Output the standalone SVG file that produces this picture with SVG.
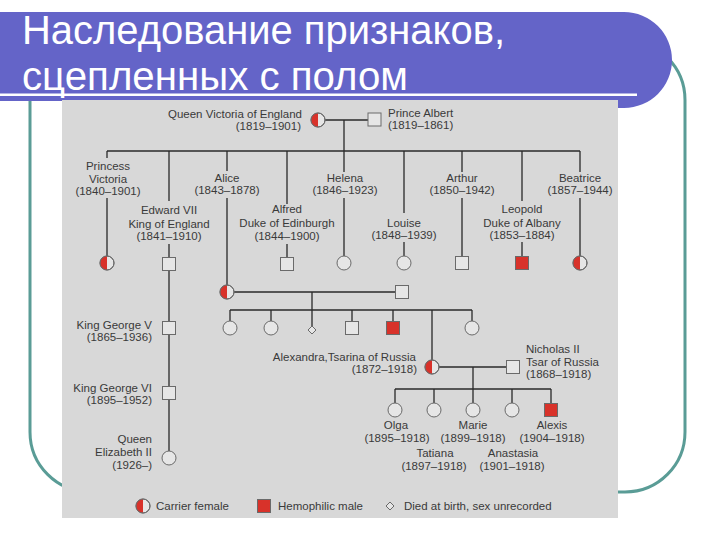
<svg xmlns="http://www.w3.org/2000/svg" xmlns:xlink="http://www.w3.org/1999/xlink" width="720" height="540" viewBox="0 0 720 540">
<style>
.t{font-family:"Liberation Sans",Arial,sans-serif;font-size:11.5px;fill:#3a3a3a}
.m{text-anchor:middle}.e{text-anchor:end}
.ttl{font-family:"Liberation Sans",Arial,sans-serif;font-size:40px;fill:#ffffff}
.ln{fill:none;stroke:#2a2a2a;stroke-width:1.3}
.sym{fill:#e6e6e6;stroke:#6a6a6a;stroke-width:1}
.red{fill:#d8322a}
.ol{fill:none;stroke:#6a6a6a;stroke-width:1}
</style>
<defs>
<g id="carrier"><circle r="7" class="sym"/><path d="M0,-7 A7,7 0 0 0 0,7 Z" class="red"/><circle r="7" class="ol"/></g>
<circle id="female" r="7" class="sym"/>
<rect id="male" x="-6.5" y="-6.5" width="13" height="13" class="sym"/>
<g id="hemo"><rect x="-6.5" y="-6.5" width="13" height="13" class="red"/><rect x="-6.5" y="-6.5" width="13" height="13" class="ol"/></g>
<path id="diamond" d="M0,-4 L4,0 L0,4 L-4,0 Z" class="sym"/>
</defs>
<rect width="720" height="540" fill="#ffffff"/>
<rect x="30" y="40" width="655" height="452" rx="60" ry="60" fill="none" stroke="#5a9c96" stroke-width="3"/>
<path d="M0,12 H624 A48,48 0 0 1 624,108 H62 V101 H0 Z" fill="#6464c8"/>
<rect x="0" y="93.5" width="637" height="2.5" fill="#ffffff"/>
<text class="ttl" x="22" y="44" textLength="483" lengthAdjust="spacingAndGlyphs">Наследование признаков,</text>
<text class="ttl" x="22" y="90" textLength="386" lengthAdjust="spacingAndGlyphs">сцепленных с полом</text>
<rect x="62" y="100" width="556" height="418" fill="#d8d8d8"/>
<g id="connectors" class="ln">
<path d="M325,120 H368 M344,120 V151 M107,151 H580"/>
<path d="M107,151 V158 M107,198 V256"/>
<path d="M169,151 V201 M169,244 V257.5"/>
<path d="M227,151 V171 M227,198 V285"/>
<path d="M287,151 V204 M287,244 V257.5"/>
<path d="M344,151 V172 M344,198 V256"/>
<path d="M404,151 V213 M404,242 V256"/>
<path d="M462,151 V172 M462,198 V256.5"/>
<path d="M522,151 V201 M522,242 V256.5"/>
<path d="M580,151 V172 M580,198 V256"/>
<path d="M169,270.5 V321.5 M169,334.5 V386.5 M169,399.5 V451"/>
<path d="M234,292 H396 M312,292 V310 M230,310 H472"/>
<path d="M230,310 V321 M271,310 V321 M312,310 V326 M352,310 V321.5 M393,310 V321.5 M432,310 V360 M472,310 V321"/>
<path d="M439,367 H506.5 M473,367 V389 M395,389 H551"/>
<path d="M395,389 V403 M434,389 V403 M473,389 V403 M512,389 V403 M551,389 V403.5"/>
</g>
<g id="victoria"><use xlink:href="#carrier" x="318" y="120"/><text class="t e" x="302" y="118">Queen Victoria of England</text><text class="t e" x="301" y="130">(1819–1901)</text></g>
<g id="albert"><use xlink:href="#male" x="374.5" y="119.5"/><text class="t" x="388" y="117">Prince Albert</text><text class="t" x="388" y="129">(1819–1861)</text></g>
<g id="princess-victoria"><use xlink:href="#carrier" x="107" y="263"/><text class="t m" x="108" y="170">Princess</text><text class="t m" x="108" y="183">Victoria</text><text class="t m" x="108" y="195">(1840–1901)</text></g>
<g id="edward"><use xlink:href="#male" x="169" y="264"/><text class="t m" x="169" y="214">Edward VII</text><text class="t m" x="169" y="228">King of England</text><text class="t m" x="169" y="240">(1841–1910)</text></g>
<g id="alice"><use xlink:href="#carrier" x="227" y="292"/><text class="t m" x="227" y="182">Alice</text><text class="t m" x="227" y="194">(1843–1878)</text></g>
<g id="alfred"><use xlink:href="#male" x="287" y="264"/><text class="t m" x="287" y="213">Alfred</text><text class="t m" x="287" y="227">Duke of Edinburgh</text><text class="t m" x="287" y="240">(1844–1900)</text></g>
<g id="helena"><use xlink:href="#female" x="344" y="263"/><text class="t m" x="345" y="182">Helena</text><text class="t m" x="345" y="194">(1846–1923)</text></g>
<g id="louise"><use xlink:href="#female" x="404" y="263"/><text class="t m" x="404" y="227">Louise</text><text class="t m" x="404" y="239">(1848–1939)</text></g>
<g id="arthur"><use xlink:href="#male" x="462" y="263"/><text class="t m" x="462" y="182">Arthur</text><text class="t m" x="462" y="194">(1850–1942)</text></g>
<g id="leopold"><use xlink:href="#hemo" x="522" y="263"/><text class="t m" x="522" y="213">Leopold</text><text class="t m" x="522" y="227">Duke of Albany</text><text class="t m" x="522" y="239">(1853–1884)</text></g>
<g id="beatrice"><use xlink:href="#carrier" x="580" y="263"/><text class="t m" x="580" y="182">Beatrice</text><text class="t m" x="580" y="194">(1857–1944)</text></g>
<g id="louis-hesse"><use xlink:href="#male" x="402" y="292"/></g>
<g id="alice-child1"><use xlink:href="#female" x="230" y="328"/></g>
<g id="alice-child2"><use xlink:href="#female" x="271" y="328"/></g>
<g id="alice-child3"><use xlink:href="#diamond" x="312" y="330"/></g>
<g id="alice-child4"><use xlink:href="#male" x="352" y="328"/></g>
<g id="alice-child5"><use xlink:href="#hemo" x="393" y="328"/></g>
<g id="alice-child7"><use xlink:href="#female" x="472" y="328"/></g>
<g id="george5"><use xlink:href="#male" x="169" y="328"/><text class="t e" x="152" y="329">King George V</text><text class="t e" x="152" y="341">(1865–1936)</text></g>
<g id="george6"><use xlink:href="#male" x="169" y="393"/><text class="t e" x="152" y="392">King George VI</text><text class="t e" x="152" y="404">(1895–1952)</text></g>
<g id="elizabeth"><use xlink:href="#female" x="169" y="458"/><text class="t e" x="152" y="443">Queen</text><text class="t e" x="152" y="456">Elizabeth II</text><text class="t e" x="152" y="469">(1926–)</text></g>
<g id="alexandra"><use xlink:href="#carrier" x="432" y="367"/><text class="t e" x="416" y="361">Alexandra,Tsarina of Russia</text><text class="t e" x="417" y="373">(1872–1918)</text></g>
<g id="nicholas"><use xlink:href="#male" x="513" y="367"/><text class="t" x="526" y="353">Nicholas II</text><text class="t" x="526" y="366">Tsar of Russia</text><text class="t" x="526" y="378">(1868–1918)</text></g>
<g id="olga"><use xlink:href="#female" x="395" y="410"/><text class="t m" x="396" y="429">Olga</text><text class="t m" x="397" y="442">(1895–1918)</text></g>
<g id="tatiana"><use xlink:href="#female" x="434" y="410"/><text class="t m" x="435" y="457">Tatiana</text><text class="t m" x="434" y="470">(1897–1918)</text></g>
<g id="marie"><use xlink:href="#female" x="473" y="410"/><text class="t m" x="473" y="429">Marie</text><text class="t m" x="473" y="442">(1899–1918)</text></g>
<g id="anastasia"><use xlink:href="#female" x="512" y="410"/><text class="t m" x="513" y="457">Anastasia</text><text class="t m" x="512" y="470">(1901–1918)</text></g>
<g id="alexis"><use xlink:href="#hemo" x="551" y="410"/><text class="t m" x="552" y="429">Alexis</text><text class="t m" x="552" y="442">(1904–1918)</text></g>
<g id="legend">
<use xlink:href="#carrier" x="143" y="506"/><text class="t" x="156" y="510">Carrier female</text>
<use xlink:href="#hemo" x="264" y="506"/><text class="t" x="278" y="510">Hemophilic male</text>
<use xlink:href="#diamond" x="390" y="506"/><text class="t" x="404" y="510">Died at birth, sex unrecorded</text>
</g>
</svg>
